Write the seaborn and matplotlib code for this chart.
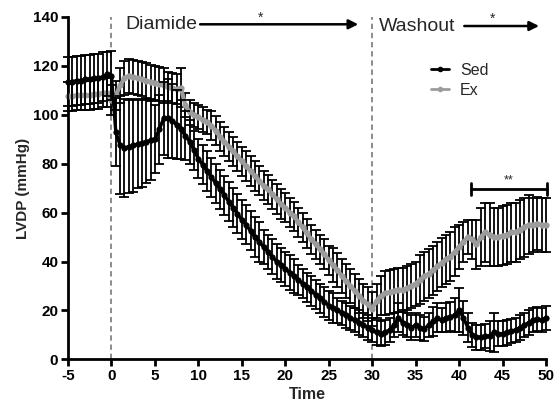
import numpy as np
import pandas as pd
import matplotlib
matplotlib.use("Agg")
import matplotlib.pyplot as plt
import seaborn as sns
from matplotlib.lines import Line2D

time = [-5, -4.5, -4, -3.5, -3, -2.5, -2, -1.5, -1, -0.5, 0,
        0.5, 1, 1.5, 2, 2.5, 3, 3.5, 4, 4.5, 5, 5.5,
        6, 6.5, 7, 7.5, 8, 8.5,
        9, 9.5, 10, 10.5, 11, 11.5, 12, 12.5, 13, 13.5,
        14, 14.5, 15, 15.5, 16, 16.5, 17, 17.5, 18, 18.5,
        19, 19.5, 20, 20.5, 21, 21.5, 22, 22.5, 23, 23.5,
        24, 24.5, 25, 25.5, 26, 26.5, 27, 27.5, 28, 28.5,
        29, 29.5, 30,
        30.5, 31, 31.5, 32, 32.5, 33, 33.5, 34, 34.5, 35,
        35.5, 36, 36.5, 37, 37.5, 38, 38.5, 39, 39.5, 40,
        40.5, 41, 41.5, 42, 42.5, 43, 43.5, 44, 44.5, 45,
        45.5, 46, 46.5, 47, 47.5, 48, 48.5, 49, 49.5, 50]

sed_mean = [113.5, 113.5, 114, 114, 114.5, 114.5, 115, 115, 115.5, 116.5, 116,
            93, 87.5, 86.5, 87, 87.5, 88, 88.5, 89, 89.5, 90, 94,
            98.5, 98.5, 97.5, 96, 94, 91.5,
            89, 85.5, 82, 79.5, 77, 74.5, 72, 69.5, 67, 64.5,
            62, 59.5, 57, 55, 52.5, 50, 48, 46, 44, 42,
            40, 38.5, 37, 35.5, 34, 32.5, 31, 29.5, 28, 26.5,
            25, 23.5, 22, 21, 20, 19, 18, 17, 16, 15,
            14, 13, 12,
            11, 10.5, 11, 12, 14, 17, 15, 14, 13, 14,
            13, 12.5, 14, 15.5, 17, 16, 17, 17.5, 18, 20,
            17, 13, 10, 9, 9, 9.5, 9.5, 11, 10.5, 10.5,
            11, 11.5, 12, 13, 14, 15, 16, 16.5, 16, 17]

sed_err = [10, 10, 10, 10, 10, 10, 10, 10, 10, 9, 10,
           14, 20, 20, 19, 19, 18, 18, 17, 16, 14, 14,
           15, 16, 15, 14, 12, 10,
           9, 8, 8, 8, 8, 8, 8, 8, 8, 8,
           8, 8, 8, 8, 8, 8, 8, 7, 7, 7,
           7, 7, 7, 7, 7, 6, 6, 6, 6, 6,
           6, 6, 6, 6, 5, 5, 5, 5, 5, 5,
           5, 5, 5,
           5, 5, 5, 5, 5, 6, 5, 5, 5, 5,
           5, 5, 5, 6, 6, 5, 6, 6, 7, 9,
           7, 6, 5, 5, 5, 5, 6, 8, 5, 5,
           5, 5, 5, 5, 5, 5, 5, 5, 5, 5]

ex_mean = [107.5, 107.5, 108, 108, 108, 108, 108.5, 108.5, 109, 109, 106,
           108, 112, 115, 116, 115.5, 115, 114.5, 114, 113.5, 113, 112.5,
           112, 111.5, 111, 110.5, 111, 104,
           101, 100, 99, 98, 97, 95.5, 93.5, 91, 89, 87,
           85, 83, 81, 79, 77, 75, 73, 71, 69.5, 67.5,
           65.5, 63.5, 62, 60, 58.5, 56, 54, 51.5, 49, 47,
           45, 43, 40.5, 38.5, 36.5, 34, 32, 30, 28, 26,
           24, 22.5, 20.5,
           24, 26, 27, 27.5, 28, 28.5, 28.5, 29, 30, 31,
           32.5, 34, 35, 36.5, 38, 39.5, 41, 42, 44, 46,
           48, 50, 49, 47, 50, 52, 51, 50, 50, 50.5,
           51, 52, 52, 53, 54, 55, 55, 55.5, 55, 55]

ex_err = [6, 6, 6, 6, 6, 6, 6, 6, 6, 6, 6,
          6, 7, 7, 7, 7, 7, 7, 7, 7, 7, 7,
          7, 6, 6, 6, 8, 5,
          5, 5, 5, 5, 5, 6, 6, 6, 6, 6,
          6, 6, 6, 6, 6, 6, 6, 6, 6, 6,
          6, 6, 6, 6, 6, 6, 6, 6, 6, 6,
          6, 6, 6, 7, 7, 7, 7, 7, 7, 7,
          7, 7, 7,
          7, 8, 9, 9, 9, 9, 9, 9, 9, 9,
          10, 10, 10, 10, 10, 10, 10, 10, 10, 9,
          8, 7, 8, 10, 12, 12, 13, 12, 12, 12,
          12, 12, 12, 12, 12, 12, 11, 11, 11, 11]

x_ticks = [-5, 0, 5, 10, 15, 20, 25, 30, 35, 40, 45, 50]
y_ticks = [0, 20, 40, 60, 80, 100, 120, 140]

sns.set_theme(style="ticks")
plt.rcParams['font.family'] = ['Liberation Sans', 'DejaVu Sans']
plt.rcParams['axes.unicode_minus'] = False

n = len(time)
df = pd.DataFrame({
    'Time': time + time,
    'LVDP': sed_mean + ex_mean,
    'Group': ['Sed'] * n + ['Ex'] * n,
})

fig = plt.figure(figsize=(5.56, 4.04), dpi=100)
ax = fig.add_axes([0.1223, 0.1106, 0.8597, 0.8474])

gray = '#9c9c9c'
ax.axvline(0, color='#6e6e6e', ls=(0, (3.5, 2.5)), lw=1.1, zorder=1)
ax.axvline(30, color='#6e6e6e', ls=(0, (3.5, 2.5)), lw=1.1, zorder=1)

ax.errorbar(time, ex_mean, yerr=ex_err, fmt='none', ecolor='black',
            elinewidth=1.3, capsize=3.5, capthick=1.3, zorder=2, clip_on=False)
sns.lineplot(data=df[df.Group == 'Ex'], x='Time', y='LVDP', color=gray,
             marker='o', markersize=4.5, markeredgewidth=0, linewidth=3,
             ax=ax, zorder=3, legend=False, clip_on=False)
ax.errorbar(time, sed_mean, yerr=sed_err, fmt='none', ecolor='black',
            elinewidth=1.3, capsize=3.5, capthick=1.3, zorder=4, clip_on=False)
sns.lineplot(data=df[df.Group == 'Sed'], x='Time', y='LVDP', color='black',
             marker='o', markersize=4.5, markeredgewidth=0, linewidth=2.4,
             ax=ax, zorder=5, legend=False, clip_on=False)

ax.set_xlim(-5, 50)
ax.set_ylim(0, 140)
ax.set_xticks(x_ticks)
ax.set_yticks(y_ticks)
sns.despine(ax=ax)
for s in ['left', 'bottom']:
    ax.spines[s].set_linewidth(2)
    ax.spines[s].set_color('black')
ax.tick_params(width=2, length=5, labelsize=11, colors='black', pad=2)
for lab in ax.get_xticklabels() + ax.get_yticklabels():
    lab.set_fontweight('bold')
ax.set_xlabel('Time', fontsize=11.5, fontweight='bold', labelpad=3)
ax.set_ylabel('LVDP (mmHg)', fontsize=11, fontweight='bold', labelpad=2)

# annotations
arrow = dict(arrowstyle='-|>', color='black', lw=1.8, mutation_scale=14,
             shrinkA=0, shrinkB=0)
ax.text(1.65, 136.8, 'Diamide', fontsize=14, va='center', ha='left')
ax.annotate('', xy=(28.4, 137), xytext=(10.2, 137), arrowprops=arrow,
            annotation_clip=False)
ax.text(17.2, 136.8, '*', fontsize=10, ha='center', va='bottom')
ax.text(30.8, 136.2, 'Washout', fontsize=14, va='center', ha='left')
ax.annotate('', xy=(49.2, 136.3), xytext=(40.6, 136.3), arrowprops=arrow,
            annotation_clip=False)
ax.text(43.9, 136.3, '*', fontsize=10, ha='center', va='bottom')

ax.plot([41.4, 50.1], [69.7, 69.7], color='black', lw=2, clip_on=False)
ax.plot([41.4, 41.4], [67.3, 72.1], color='black', lw=2, clip_on=False)
ax.plot([50.1, 50.1], [67.3, 72.1], color='black', lw=2, clip_on=False)
ax.text(45.7, 70.5, '**', fontsize=9, ha='center', va='bottom')

handles = [Line2D([], [], color='black', marker='o', ms=4, mew=0, lw=2),
           Line2D([], [], color=gray, marker='o', ms=4, mew=0, lw=2)]
ax.legend(handles, ['Sed', 'Ex'], loc='upper left', bbox_to_anchor=(0.76, 0.866),
          frameon=False, fontsize=11.5, handlelength=1.1, handletextpad=0.7,
          labelspacing=0.3, borderaxespad=0, borderpad=0)

fig.savefig('out.png', dpi=100)
